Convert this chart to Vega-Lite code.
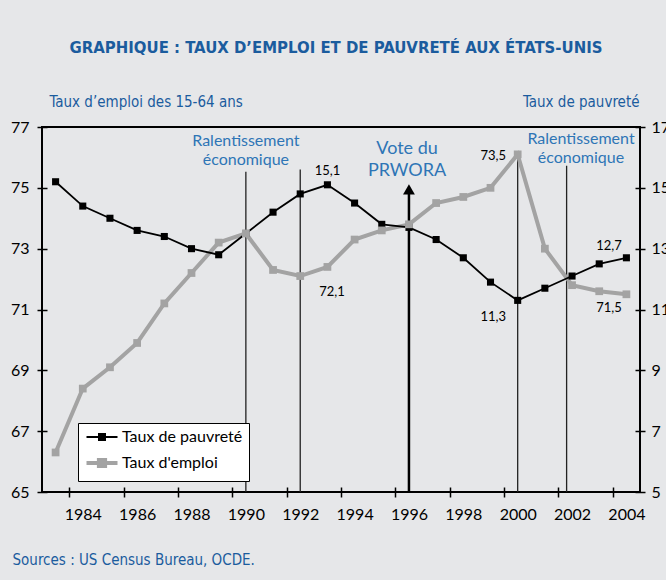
{
  "$schema": "https://vega.github.io/schema/vega-lite/v6.json",
  "width": 598,
  "height": 365,
  "autosize": "none",
  "padding": {"left": 42, "top": 127, "right": 26, "bottom": 88},
  "background": "#e6e7e9",
  "title": {
    "text": "GRAPHIQUE : TAUX D’EMPLOI ET DE PAUVRETÉ AUX ÉTATS-UNIS",
    "font": "DejaVu Sans Condensed",
    "fontSize": 16.6,
    "fontWeight": "bold",
    "color": "#1b5c9e",
    "anchor": "middle",
    "frame": "group",
    "offset": 37,
    "dx": -5
  },
  "config": {
    "view": {"stroke": "black", "strokeWidth": 2, "fill": null},
    "axis": {"grid": false, "domain": false, "tickColor": "black", "tickWidth": 1.5, "tickSize": 10, "offset": -5,
      "labelFont": "Lato", "labelFontSize": 16, "labelColor": "black", "labelOverlap": false,
      "titleFont": "DejaVu Sans Condensed", "titleFontSize": 15, "titleFontWeight": "normal", "titleColor": "#1b5c9e"}
  },
  "datasets": {
    "series": [
      {"annee": 1983, "emploi": 66.3, "pauvrete": 15.2},
      {"annee": 1984, "emploi": 68.4, "pauvrete": 14.4},
      {"annee": 1985, "emploi": 69.1, "pauvrete": 14.0},
      {"annee": 1986, "emploi": 69.9, "pauvrete": 13.6},
      {"annee": 1987, "emploi": 71.2, "pauvrete": 13.4},
      {"annee": 1988, "emploi": 72.2, "pauvrete": 13.0},
      {"annee": 1989, "emploi": 73.2, "pauvrete": 12.8},
      {"annee": 1990, "emploi": 73.5, "pauvrete": 13.5},
      {"annee": 1991, "emploi": 72.3, "pauvrete": 14.2},
      {"annee": 1992, "emploi": 72.1, "pauvrete": 14.8},
      {"annee": 1993, "emploi": 72.4, "pauvrete": 15.1},
      {"annee": 1994, "emploi": 73.3, "pauvrete": 14.5},
      {"annee": 1995, "emploi": 73.6, "pauvrete": 13.8},
      {"annee": 1996, "emploi": 73.8, "pauvrete": 13.7},
      {"annee": 1997, "emploi": 74.5, "pauvrete": 13.3},
      {"annee": 1998, "emploi": 74.7, "pauvrete": 12.7},
      {"annee": 1999, "emploi": 75.0, "pauvrete": 11.9},
      {"annee": 2000, "emploi": 76.1, "pauvrete": 11.3},
      {"annee": 2001, "emploi": 73.0, "pauvrete": 11.7},
      {"annee": 2002, "emploi": 71.8, "pauvrete": 12.1},
      {"annee": 2003, "emploi": 71.6, "pauvrete": 12.5},
      {"annee": 2004, "emploi": 71.5, "pauvrete": 12.7}
    ],
    "lignes": [
      {"annee": 1990, "haut": 75.53},
      {"annee": 1992, "haut": 75.6},
      {"annee": 2000, "haut": 76.1},
      {"annee": 2001.8, "haut": 75.73}
    ],
    "fleche": [{"annee": 1996, "haut": 74.8, "pointe": 74.95}],
    "ralentissement": [
      {"annee": 1990, "v": 76.38, "texte": "Ralentissement\néconomique"},
      {"annee": 2002.33, "v": 76.44, "texte": "Ralentissement\néconomique"}
    ],
    "vote": [{"annee": 1995.93, "v": 76.12, "texte": "Vote du\nPRWORA"}],
    "etiq_emploi": [
      {"annee": 1993.17, "v": 71.45, "texte": "72,1"},
      {"annee": 2003.36, "v": 70.93, "texte": "71,5"},
      {"annee": 1999.1, "v": 75.92, "texte": "73,5"}
    ],
    "etiq_pauvrete": [
      {"annee": 1993.0, "v": 15.43, "texte": "15,1"},
      {"annee": 1999.1, "v": 10.63, "texte": "11,3"},
      {"annee": 2003.36, "v": 12.96, "texte": "12,7"}
    ]
  },
  "layer": [
    {
      "data": {"name": "lignes"},
      "mark": {"type": "rule", "color": "#222", "strokeWidth": 1.3},
      "encoding": {
        "x": {"field": "annee", "type": "quantitative",
          "scale": {"domain": [1982.5, 2004.5], "nice": false, "zero": false},
          "axis": {
            "values": [1983.5, 1984.5, 1985.5, 1986.5, 1987.5, 1988.5, 1989.5, 1990.5, 1991.5, 1992.5, 1993.5, 1994.5, 1995.5, 1996.5, 1997.5, 1998.5, 1999.5, 2000.5, 2001.5, 2002.5, 2003.5, 2004.5],
            "labelExpr": "((datum.value + 0.5) % 2 == 0) ? toString(datum.value + 0.5) : ''",
            "labelOffset": 13.6, "labelPadding": 9, "labelOverlap": false, "labelFlush": false,
            "labelFont": "Lato", "labelFontSize": 16, "labelColor": "black",
            "title": "Sources : US Census Bureau, OCDE.",
            "titleX": -30, "titleY": 77, "titleAlign": "left", "titleBaseline": "alphabetic"
          }},
        "y": {"field": "haut", "type": "quantitative", "scale": {"domain": [65, 77], "nice": false, "zero": false}, "axis": null},
        "y2": {"datum": 65}
      }
    },
    {
      "data": {"name": "fleche"},
      "mark": {"type": "rule", "color": "black", "strokeWidth": 2.5},
      "encoding": {
        "x": {"field": "annee", "type": "quantitative"},
        "y": {"field": "haut", "type": "quantitative", "scale": {"domain": [65, 77], "nice": false, "zero": false}, "axis": null},
        "y2": {"datum": 65}
      }
    },
    {
      "data": {"name": "fleche"},
      "mark": {"type": "point", "shape": "triangle-up", "filled": true, "color": "black", "size": 140, "opacity": 1},
      "encoding": {
        "x": {"field": "annee", "type": "quantitative"},
        "y": {"field": "pointe", "type": "quantitative", "scale": {"domain": [65, 77], "nice": false, "zero": false}, "axis": null}
      }
    },
    {
      "data": {"name": "series"},
      "mark": {"type": "line", "strokeWidth": 4},
      "encoding": {
        "x": {"field": "annee", "type": "quantitative"},
        "y": {"field": "emploi", "type": "quantitative", "scale": {"domain": [65, 77], "nice": false, "zero": false},
          "axis": {"orient": "left", "values": [65, 67, 69, 71, 73, 75, 77], "labelPadding": 8,
            "title": "Taux d’emploi des 15-64 ans", "titleAngle": 0, "titleX": 2, "titleY": -21, "titleAlign": "left", "titleBaseline": "alphabetic"}},
        "color": {"datum": "Taux d'emploi", "type": "nominal",
          "scale": {"domain": ["Taux de pauvreté", "Taux d'emploi"], "range": ["#000000", "#a3a3a3"]},
          "legend": {"title": null, "orient": "none", "legendX": 36, "legendY": 296,
            "fillColor": "white", "strokeColor": "black", "padding": 6,
            "labelFont": "Lato", "labelFontSize": 16, "labelColor": "black",
            "symbolType": "M-1,0L1,0M-0.2,-0.2L0.2,-0.2L0.2,0.2L-0.2,0.2Z",
            "symbolSize": 961, "rowPadding": 6,
            "encode": {
              "symbols": {"update": {
                "x": {"value": 18},
                "size": {"value": 961},
                "fill": {"signal": "datum.value === 'Taux de pauvreté' ? '#000000' : '#a3a3a3'"},
                "stroke": {"signal": "datum.value === 'Taux de pauvreté' ? '#000000' : '#a3a3a3'"},
                "strokeWidth": {"signal": "datum.value === 'Taux de pauvreté' ? 1.8 : 4"},
                "opacity": {"value": 1}
              }},
              "labels": {"update": {"x": {"value": 38}}}
            }}}
      }
    },
    {
      "data": {"name": "series"},
      "mark": {"type": "line", "strokeWidth": 1.8},
      "encoding": {
        "x": {"field": "annee", "type": "quantitative"},
        "y": {"field": "pauvrete", "type": "quantitative", "scale": {"domain": [5, 17], "nice": false, "zero": false},
          "axis": {"orient": "right", "values": [5, 7, 9, 11, 13, 15, 17], "labelPadding": 6,
            "title": "Taux de pauvreté", "titleAngle": 0, "titleX": 4, "titleY": -21, "titleAlign": "right", "titleBaseline": "alphabetic"}},
        "color": {"datum": "Taux de pauvreté", "type": "nominal"}
      }
    },
    {
      "data": {"name": "series"},
      "mark": {"type": "point", "shape": "square", "filled": true, "size": 50, "opacity": 1},
      "encoding": {
        "x": {"field": "annee", "type": "quantitative"},
        "y": {"field": "pauvrete", "type": "quantitative", "scale": {"domain": [5, 17], "nice": false, "zero": false}, "axis": null},
        "color": {"datum": "Taux de pauvreté", "type": "nominal"}
      }
    },
    {
      "data": {"name": "series"},
      "mark": {"type": "point", "shape": "square", "filled": true, "size": 60, "opacity": 1},
      "encoding": {
        "x": {"field": "annee", "type": "quantitative"},
        "y": {"field": "emploi", "type": "quantitative", "scale": {"domain": [65, 77], "nice": false, "zero": false}, "axis": null},
        "color": {"datum": "Taux d'emploi", "type": "nominal"}
      }
    },
    {
      "data": {"name": "ralentissement"},
      "mark": {"type": "text", "font": "Lato", "fontSize": 16, "color": "#2e75b6", "align": "center", "baseline": "alphabetic", "lineBreak": "\n", "lineHeight": 19},
      "encoding": {
        "x": {"field": "annee", "type": "quantitative"},
        "y": {"field": "v", "type": "quantitative", "scale": {"domain": [65, 77], "nice": false, "zero": false}, "axis": null},
        "text": {"field": "texte"}
      }
    },
    {
      "data": {"name": "vote"},
      "mark": {"type": "text", "font": "Lato", "fontSize": 18, "color": "#2e75b6", "align": "center", "baseline": "alphabetic", "lineBreak": "\n", "lineHeight": 22},
      "encoding": {
        "x": {"field": "annee", "type": "quantitative"},
        "y": {"field": "v", "type": "quantitative", "scale": {"domain": [65, 77], "nice": false, "zero": false}, "axis": null},
        "text": {"field": "texte"}
      }
    },
    {
      "data": {"name": "etiq_emploi"},
      "mark": {"type": "text", "font": "Lato", "fontSize": 13, "color": "black", "align": "center", "baseline": "alphabetic"},
      "encoding": {
        "x": {"field": "annee", "type": "quantitative"},
        "y": {"field": "v", "type": "quantitative", "scale": {"domain": [65, 77], "nice": false, "zero": false}, "axis": null},
        "text": {"field": "texte"}
      }
    },
    {
      "data": {"name": "etiq_pauvrete"},
      "mark": {"type": "text", "font": "Lato", "fontSize": 13, "color": "black", "align": "center", "baseline": "alphabetic"},
      "encoding": {
        "x": {"field": "annee", "type": "quantitative"},
        "y": {"field": "v", "type": "quantitative", "scale": {"domain": [5, 17], "nice": false, "zero": false}, "axis": null},
        "text": {"field": "texte"}
      }
    }
  ],
  "resolve": {"scale": {"y": "independent"}}
}
